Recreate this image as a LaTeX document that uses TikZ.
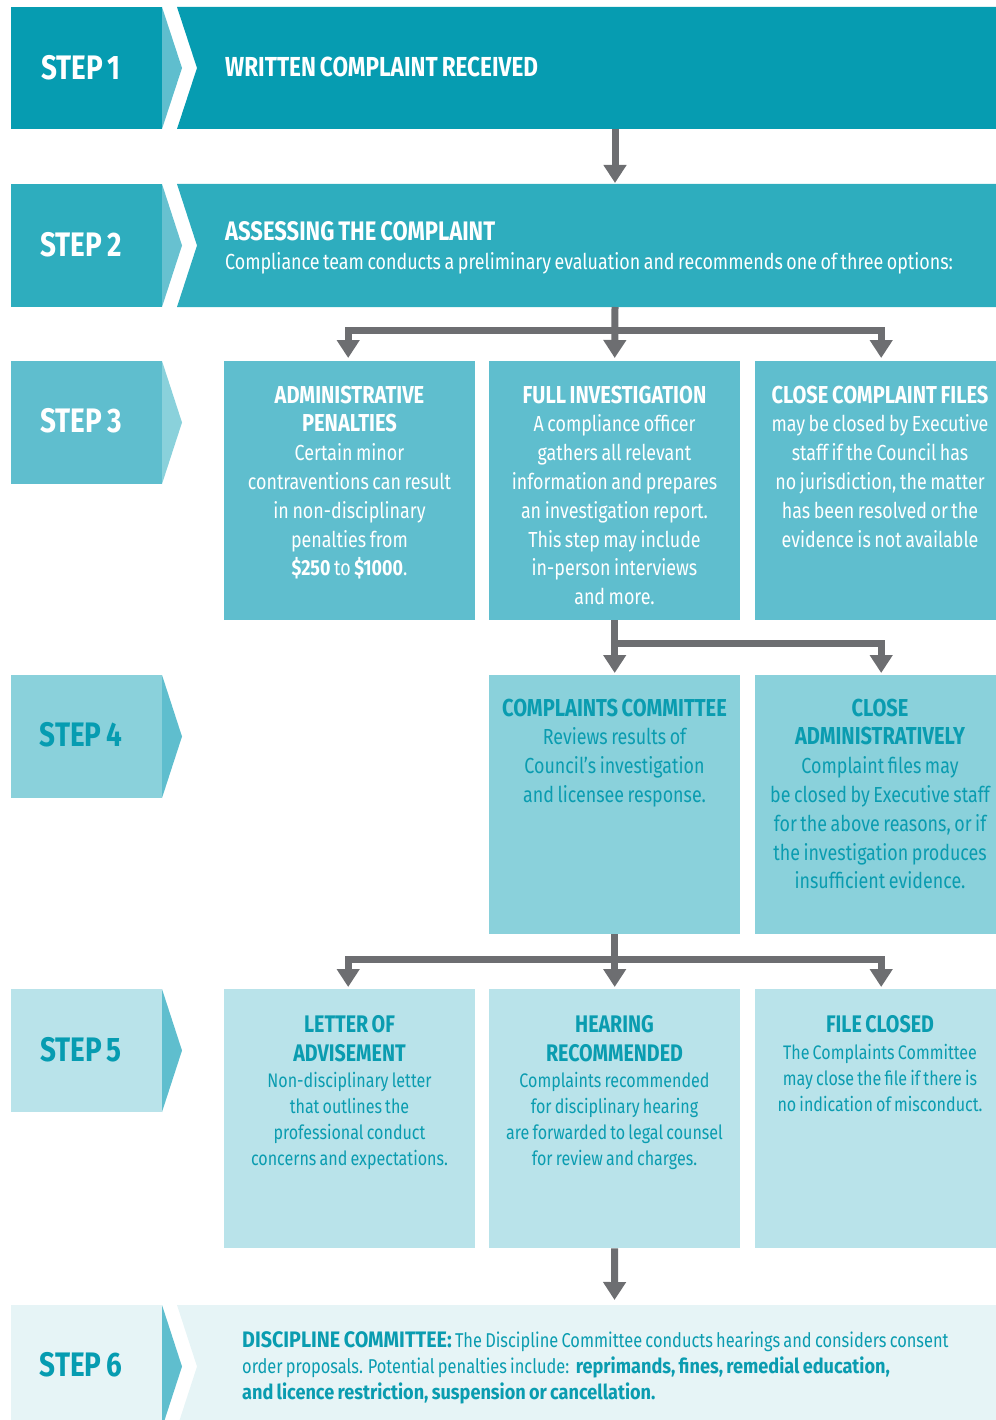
\documentclass[tikz,border=0pt]{standalone}
\usepackage{fontspec}
\setmainfont{Fira Sans}[FakeStretch=0.82, WordSpace=0.75]
\newfontfamily\sixbold{Fira Sans}[FakeStretch=0.88, WordSpace=0.75]
\usetikzlibrary{arrows.meta}
\definecolor{cA}{HTML}{069CB1}
\definecolor{cB}{HTML}{2EADBE}
\definecolor{cC}{HTML}{5FBECE}
\definecolor{cD}{HTML}{8AD1DB}
\definecolor{cE}{HTML}{B9E3EA}
\definecolor{cF}{HTML}{E6F4F6}
\definecolor{tealtext}{HTML}{0A9CB0}
\definecolor{arrowgray}{HTML}{6D6E71}
\newcommand\hdthree{\fontsize{24.5}{28.8}\selectfont\bfseries}
\newcommand\hdfive{\fontsize{24}{26}\selectfont\bfseries}
\begin{document}
\begin{tikzpicture}[x=1pt,y=-1pt,
  conn/.style={draw=arrowgray, line width=7pt, line join=miter},
  arr/.style={conn, -{Triangle[width=22pt,length=18pt]}, shorten >=3pt},
  steptext/.style={inner sep=0pt, font=\fontsize{34}{36}\selectfont\bfseries},
  bannerhead/.style={anchor=base west, inner sep=0pt, text=white},
  panel/.style={inner sep=0pt, minimum height=259pt, anchor=north west},
  boxtext/.style={anchor=base, inner sep=0pt, text width=#1, align=flush center},
]
\useasboundingbox (0,0) rectangle (995,1420);

% ---------- STEP 1 ----------
\fill[cA] (11,7) rectangle (162,129);
\fill[cC] (162,7) -- (182,68) -- (162,129) -- cycle;
\fill[cA] (177,7) -- (1000,7) -- (1000,129) -- (177,129) -- (197,68) -- cycle;
\node[steptext, text=white] (l1) at (81,67.5) {STEP 1};
\node[bannerhead, font=\fontsize{27.5}{30}\selectfont\bfseries] (h1) at (225,77) {WRITTEN COMPLAINT RECEIVED};
\coordinate (s1bot) at (615,129);
\coordinate (s2top) at (615,184);

% ---------- STEP 2 ----------
\fill[cB] (11,184) rectangle (162,307);
\fill[cC!95!white] (162,184) -- (182,245.5) -- (162,307) -- cycle;
\fill[cB] (177,184) -- (1000,184) -- (1000,307) -- (177,307) -- (197,245.5) -- cycle;
\node[steptext, text=white] (l2) at (81,244.5) {STEP 2};
\node[bannerhead, font=\fontsize{26.8}{28}\selectfont\bfseries] (h2) at (225,241) {ASSESSING THE COMPLAINT};
\node[bannerhead, font=\fontsize{21.8}{26}\selectfont] (d2) at (225,270) {Compliance team conducts a preliminary evaluation and recommends one of three options:};
\coordinate (s2bot) at (615,307);
\coordinate (j2) at (615,330);

% ---------- STEP 3 ----------
\fill[cC] (11,361) rectangle (162,484);
\fill[cD] (162,361) -- (182,422.5) -- (162,484) -- cycle;
\node[steptext, text=white] (l3) at (81,421) {STEP 3};
\node[panel, fill=cC, minimum width=251pt] (p31) at (224,361) {};
\node[panel, fill=cC, minimum width=251pt] (p32) at (489,361) {};
\node[panel, fill=cC, minimum width=251pt] (p33) at (755,361) {};
\node[boxtext=245pt, text=white, font=\fontsize{21.8}{28.8}\selectfont] (t31) at (349.5,403)
 {{\hdthree ADMINISTRATIVE\\PENALTIES}\\Certain minor\\contraventions can result\\in non-disciplinary\\penalties from\\{\bfseries\$250} to {\bfseries\$1000}.};
\node[boxtext=245pt, text=white, font=\fontsize{21.8}{28.8}\selectfont] (t32) at (614.5,403)
 {{\hdthree FULL INVESTIGATION}\\A compliance officer\\gathers all relevant\\information and prepares\\an investigation report.\\This step may include\\in-person interviews\\and more.};
\node[boxtext=248pt, text=white, font=\fontsize{21.8}{28.8}\selectfont] (t33) at (880,403)
 {{\hdthree CLOSE COMPLAINT FILES}\\may be closed by Executive\\staff if the Council has\\no jurisdiction, the matter\\has been resolved or the\\evidence is not available};
\coordinate (j3) at (614.5,643);

% ---------- STEP 4 ----------
\fill[cD] (11,675) rectangle (162,798);
\fill[cC] (162,675) -- (182,736.5) -- (162,798) -- cycle;
\node[steptext, text=cA] (l4) at (81,735) {STEP 4};
\node[panel, fill=cD, minimum width=251pt] (p42) at (489,675) {};
\node[panel, fill=cD, minimum width=251pt] (p43) at (755,675) {};
\node[boxtext=248pt, text=tealtext, font=\fontsize{21.8}{28.8}\selectfont] (t42) at (614.5,716)
 {{\hdthree COMPLAINTS COMMITTEE}\\Reviews results of\\Council’s investigation\\and licensee response.};
\node[boxtext=248pt, text=tealtext, font=\fontsize{21.8}{28.8}\selectfont] (t43) at (880,716)
 {{\hdthree CLOSE\\ADMINISTRATIVELY}\\Complaint files may\\be closed by Executive staff\\for the above reasons, or if\\the investigation produces\\insufficient evidence.};
\coordinate (j4) at (614.5,959);

% ---------- STEP 5 ----------
\fill[cE] (11,989) rectangle (162,1112);
\fill[cC] (162,989) -- (182,1050.5) -- (162,1112) -- cycle;
\node[steptext, text=cA] (l5) at (81,1050) {STEP 5};
\node[panel, fill=cE, minimum width=251pt] (p51) at (224,989) {};
\node[panel, fill=cE, minimum width=251pt] (p52) at (489,989) {};
\node[panel, fill=cE, minimum width=251pt] (p53) at (755,989) {};
\node[boxtext=248pt, text=tealtext, font=\fontsize{19.6}{26}\selectfont] (t51) at (349.5,1032)
 {{\hdfive LETTER OF\\[3pt]ADVISEMENT}\\Non-disciplinary letter\\that outlines the\\professional conduct\\concerns and expectations.};
\node[boxtext=248pt, text=tealtext, font=\fontsize{19.6}{26}\selectfont] (t52) at (614.5,1032)
 {{\hdfive HEARING\\[3pt]RECOMMENDED}\\Complaints recommended\\for disciplinary hearing\\are forwarded to legal counsel\\for review and charges.};
\node[boxtext=248pt, text=tealtext, font=\fontsize{19.6}{26}\selectfont] (t53) at (880,1032)
 {{\hdfive FILE CLOSED}\\[1pt]The Complaints Committee\\may close the file if there is\\no indication of misconduct.};

% ---------- STEP 6 ----------
\fill[cF] (11,1305) rectangle (162,1428);
\fill[cC] (162,1305) -- (182,1366.5) -- (162,1428) -- cycle;
\fill[cF] (177,1305) -- (1000,1305) -- (1000,1428) -- (177,1428) -- (197,1366.5) -- cycle;
\node[steptext, text=cA] (l6) at (81,1365) {STEP 6};
\node[anchor=base west, inner sep=0pt, text width=752pt, align=flush left, text=tealtext, font=\fontsize{20}{26}\selectfont] (t6) at (242,1347)
 {{\sixbold\bfseries\fontsize{22.4}{26}\selectfont DISCIPLINE COMMITTEE:} The Discipline Committee conducts hearings and considers consent\\order proposals. Potential penalties include:~~{\sixbold\bfseries\fontsize{20.6}{26}\selectfont reprimands, fines, remedial education,}\\{\sixbold\bfseries\fontsize{20.6}{26}\selectfont and licence restriction, suspension or cancellation.}};
\coordinate (s6top) at (614.5,1305);

% ---------- connectors ----------
\draw[arr, shorten >=1pt] (s1bot) -- (s2top);
\draw[arr] (s2bot) -- (p32.north);
\draw[arr] (j2) -| ([xshift=-1.5pt]p31.north);
\draw[arr] (j2) -| ([xshift=0.5pt]p33.north);
\draw[arr, shorten >=2pt] (p32.south) -- (p42.north);
\draw[arr, shorten >=2pt] (j3) -| ([xshift=0.5pt]p43.north);
\draw[arr, shorten >=2pt] (p42.south) -- (p52.north);
\draw[arr, shorten >=2pt] (j4) -| ([xshift=-1.5pt]p51.north);
\draw[arr, shorten >=2pt] (j4) -| ([xshift=0.5pt]p53.north);
\draw[arr, shorten >=5pt] (p52.south) -- (s6top);
\end{tikzpicture}
\end{document}
